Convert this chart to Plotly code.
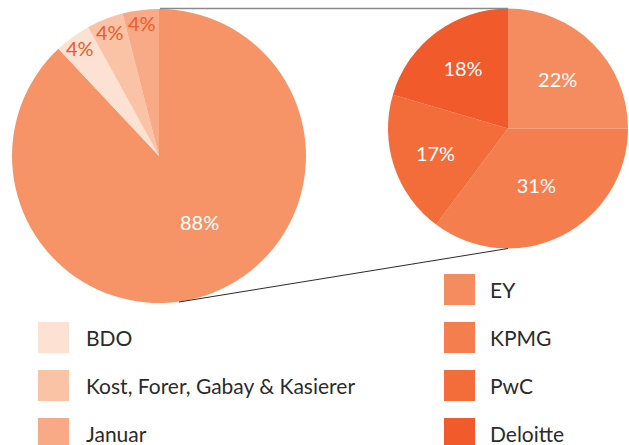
import plotly.graph_objects as go
import math

W, H = 629, 445

# ---- data ----
left_labels = ["Big 4", "BDO", "Kost, Forer, Gabay & Kasierer", "Januar"]
left_values = [88, 4, 4, 4]
left_colors = ["#F69468", "#FDE2D3", "#FBC3A6", "#F8AA87"]

right_labels = ["EY", "KPMG", "PwC", "Deloitte"]
right_values = [22, 31, 17, 18]
right_colors = ["#F58C5F", "#F47E4E", "#F36D3B", "#F15A2B"]

legend_left = ["BDO", "Kost, Forer, Gabay & Kasierer", "Januar"]
legend_left_colors = ["#FDE2D3", "#FBC3A6", "#F8AA87"]
legend_right = ["EY", "KPMG", "PwC", "Deloitte"]
legend_right_colors = ["#F58C5F", "#F47E4E", "#F36D3B", "#F15A2B"]

FONT = "Lato"

def px(x):
    return x / W

def py(y):
    return 1 - y / H

# geometry (pixels)
L_CX, L_CY, L_R = 159, 156, 147
R_CX, R_CY, R_R = 508, 128.5, 120

fig = go.Figure()

fig.add_trace(go.Pie(
    labels=left_labels, values=left_values,
    marker=dict(colors=left_colors, line=dict(width=0)),
    sort=False, direction="clockwise", rotation=0,
    domain=dict(x=[px(L_CX - L_R), px(L_CX + L_R)], y=[py(L_CY + L_R), py(L_CY - L_R)]),
    textinfo="none",
    showlegend=False, hoverinfo="label+value",
))

fig.add_trace(go.Pie(
    labels=right_labels, values=right_values,
    marker=dict(colors=right_colors, line=dict(width=0)),
    sort=False, direction="clockwise", rotation=0,
    domain=dict(x=[px(R_CX - R_R), px(R_CX + R_R)], y=[py(R_CY + R_R), py(R_CY - R_R)]),
    texttemplate="%{value}%",
    textposition="inside", insidetextorientation="horizontal",
    textfont=dict(family=FONT, size=20, color="white"),
    showlegend=False, hoverinfo="label+value",
))

annotations = []
shapes = []

# labels on the left pie, placed along each slice's mid angle (clockwise from 12 o'clock)
total = sum(left_values)
cum = 0
for lab, v in zip(left_labels, left_values):
    mid = (cum + v / 2) / total * 2 * math.pi
    if v < 10:
        rf, shift, col = 0.91, 0.0, "#F15A29"
    else:
        rf, shift, col = 0.525, math.radians(-10), "white"
    a = mid + shift
    x = L_CX + rf * L_R * math.sin(a)
    y = L_CY - rf * L_R * math.cos(a)
    annotations.append(dict(x=px(x), y=py(y), xref="paper", yref="paper",
                            text=f"{v}%", showarrow=False,
                            font=dict(family=FONT, size=20, color=col),
                            xanchor="center", yanchor="middle"))
    cum += v

# connector lines
shapes.append(dict(type="line", xref="paper", yref="paper",
                   x0=px(L_CX + 1), y0=py(8.5), x1=px(R_CX), y1=py(8.5),
                   line=dict(color="#8a8a8a", width=1.5)))
shapes.append(dict(type="line", xref="paper", yref="paper",
                   x0=px(179), y0=py(302), x1=px(R_CX), y1=py(248.5),
                   line=dict(color="#2a2a2a", width=1)))

# manual legends
SQ = 31
def legend_block(labels, colors, x_sq, x_txt, y_first):
    for i, (lab, col) in enumerate(zip(labels, colors)):
        yc = y_first + 48 * i
        shapes.append(dict(type="rect", xref="paper", yref="paper",
                           x0=px(x_sq), x1=px(x_sq + SQ),
                           y0=py(yc - SQ / 2), y1=py(yc + SQ / 2),
                           fillcolor=col, line=dict(width=0)))
        annotations.append(dict(x=px(x_txt), y=py(yc), xref="paper", yref="paper",
                                text=lab, showarrow=False,
                                font=dict(family=FONT, size=21, color="#2b2b2b"),
                                xanchor="left", yanchor="middle"))

legend_block(legend_left, legend_left_colors, 38, 84, 337.5)
legend_block(legend_right, legend_right_colors, 444, 488, 289.5)

fig.update_layout(
    width=W, height=H,
    margin=dict(l=0, r=0, t=0, b=0),
    paper_bgcolor="white", plot_bgcolor="white",
    annotations=annotations, shapes=shapes,
    showlegend=False,
)

fig.write_html("out.html")
